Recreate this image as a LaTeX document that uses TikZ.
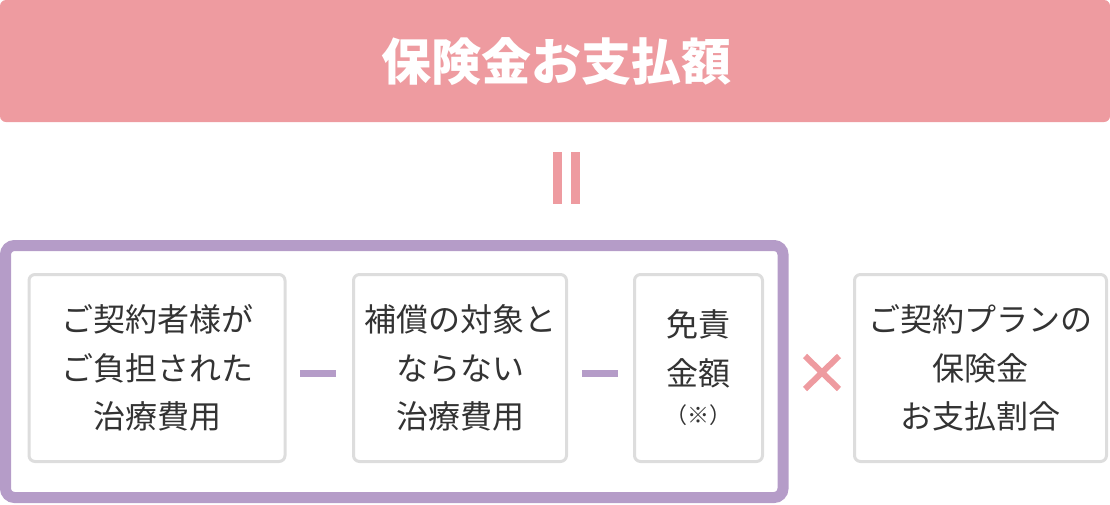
\documentclass[tikz,border=0pt]{standalone}
\usepackage{fontspec}
\setmainfont{Noto Sans CJK JP}
\usetikzlibrary{shapes.misc}
\definecolor{pinkc}{HTML}{EE9BA0}
\definecolor{purplec}{HTML}{B59CC8}
\definecolor{grayb}{HTML}{DDDDDD}
\definecolor{textc}{HTML}{333333}
\tikzset{
  itembox/.style={draw=grayb, line width=3pt, rounded corners=6pt, fill=white,
    minimum height=187pt, inner sep=0pt, align=center, text=textc,
    font=\fontsize{32}{48.5}\selectfont},
  minusop/.style={fill=purplec, minimum width=36pt, minimum height=7pt, inner sep=0pt},
  eqbar/.style={fill=pinkc, minimum width=9pt, minimum height=52pt, inner sep=0pt},
  timesop/.style={cross out, draw=pinkc, line width=6pt, minimum width=28pt, minimum height=27pt, inner sep=0pt}
}
\begin{document}
\begin{tikzpicture}[x=1pt,y=-1pt]
\useasboundingbox (0,0) rectangle (1110,504);
\fill[pinkc, rounded corners=6pt] (0,0) rectangle (1110,122);
\node[text=white, font=\fontsize{50}{58}\selectfont\bfseries] (title) at (556,62) {保険金お支払額};
\node[eqbar] (eq1) at (557.5,178) {};
\node[eqbar] (eq2) at (575.5,178) {};
\draw[purplec, line width=11pt, rounded corners=9pt] (5.5,245.5) rectangle (783,497.5);
\node[itembox, minimum width=256pt] (b1) at (157,368) {ご契約者様が\\ご負担された\\治療費用};
\node[minusop] (m1) at (318,373.5) {};
\node[itembox, minimum width=213pt] (b2) at (460,368) {補償の対象と\\ならない\\治療費用};
\node[minusop] (m2) at (600,373.5) {};
\node[itembox, minimum width=128pt] (b3) at (698.5,368) {免責\\金額\\[-10pt]{\fontsize{22}{26}\selectfont （※）}};
\node[timesop] (x1) at (822,372.5) {};
\node[itembox, minimum width=252pt] (b4) at (980.5,368) {ご契約プランの\\保険金\\お支払割合};
\end{tikzpicture}
\end{document}
